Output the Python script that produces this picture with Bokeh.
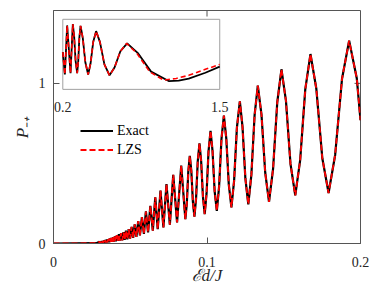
from bokeh.plotting import figure
from bokeh.models import Range1d, FixedTicker, Legend, LegendItem
from bokeh.core.properties import value
from bokeh.embed import file_html
from bokeh.resources import INLINE

# ---------------- data ----------------
x_ticks = [0, 0.1, 0.2]
x_tick_labels = ["0", "0.1", "0.2"]
y_ticks = [0, 1]
y_tick_labels = ["0", "1"]

# main panel: field E d / J and probability P_{-+} (Exact); LZS coincides at this scale
field = [0.0, 0.028,
         0.0299, 0.0303, 0.0306, 0.0310, 0.0314, 0.0318, 0.0321, 0.0325, 0.0329, 0.0334,
         0.0338, 0.0342, 0.0347, 0.0352, 0.0356, 0.0361, 0.0366, 0.0372, 0.0377, 0.0382,
         0.0388, 0.0394, 0.0400, 0.0406, 0.0413, 0.0419, 0.0426, 0.0433, 0.0440, 0.0448,
         0.0456, 0.0464, 0.0472, 0.0481, 0.0490, 0.0499, 0.0509, 0.0519, 0.0529, 0.0540,
         0.0552, 0.0563, 0.0576, 0.0589, 0.0602, 0.0616, 0.0631, 0.0647, 0.0663, 0.0679,
         0.0697, 0.0716, 0.0736, 0.0758, 0.0780, 0.0805, 0.0832, 0.0859,
         0.08686, 0.08782, 0.0888, 0.08979, 0.09080, 0.0918, 0.09288, 0.09396, 0.0951,
         0.09618, 0.09734, 0.0985, 0.09973, 0.10098, 0.1023, 0.10360, 0.10496, 0.1064,
         0.10787, 0.10941, 0.1110, 0.11257, 0.11420, 0.1159, 0.11765, 0.11947, 0.1214,
         0.12315, 0.1250, 0.1269, 0.12892, 0.13101, 0.1331, 0.13550, 0.13793, 0.1404,
         0.14306, 0.14577, 0.1485, 0.15144, 0.15439, 0.1575, 0.16070, 0.16402, 0.1674,
         0.17123, 0.17513, 0.1792, 0.18349, 0.18797, 0.1926, 0.1976, 0.2000]
p_exact = [0.0, 0.002,
           0.011, 0.003, 0.012, 0.004, 0.014, 0.004, 0.016, 0.005, 0.019, 0.006,
           0.021, 0.006, 0.024, 0.007, 0.027, 0.008, 0.031, 0.010, 0.035, 0.011,
           0.040, 0.012, 0.045, 0.014, 0.052, 0.016, 0.058, 0.018, 0.064, 0.020,
           0.070, 0.023, 0.080, 0.026, 0.090, 0.030, 0.104, 0.035, 0.120, 0.042,
           0.140, 0.050, 0.165, 0.060, 0.200, 0.070, 0.235, 0.080, 0.288, 0.090,
           0.330, 0.100, 0.371, 0.117, 0.429, 0.131, 0.486, 0.152,
           0.251, 0.449, 0.548, 0.453, 0.262, 0.167, 0.282, 0.511, 0.625,
           0.515, 0.294, 0.184, 0.314, 0.574, 0.704, 0.579, 0.329, 0.204,
           0.353, 0.650, 0.798, 0.655, 0.368, 0.225, 0.391, 0.722, 0.888,
           0.727, 0.406, 0.245, 0.430, 0.801, 0.986, 0.805, 0.442, 0.260,
           0.467, 0.881, 1.088, 0.891, 0.497, 0.300, 0.521, 0.962, 1.183,
           0.966, 0.532, 0.315, 0.553, 1.029, 1.267, 1.030, 0.770]
p_lzs = list(p_exact)

# inset: field from 0.2 to 1.5
inset_x_lim = [0.2, 1.5]
inset_y_lim = [0.0, 1.6]
inset_ticks = [0.2, 1.5]
inset_tick_labels = ["0.2", "1.5"]
inset_field = [0.200, 0.217, 0.236, 0.264, 0.283, 0.294, 0.306, 0.319, 0.3278, 0.3371,
               0.347, 0.3657, 0.3866, 0.410, 0.4299, 0.4517, 0.476, 0.5079, 0.5446, 0.587,
               0.6285, 0.6769, 0.733, 0.820, 0.931, 1.077, 1.160, 1.243, 1.381, 1.500]
inset_exact = [0.85, 0.34, 1.46, 0.37, 1.49, 1.21, 0.65, 0.37, 0.64, 1.18,
               1.45, 1.17, 0.62, 0.34, 0.59, 1.08, 1.33, 1.08, 0.57, 0.32,
               0.50, 0.87, 1.05, 0.835, 0.405, 0.19, 0.20, 0.245, 0.38, 0.52]
inset_field_lzs = [0.200, 0.217, 0.236, 0.264, 0.283, 0.294, 0.306, 0.319, 0.3278, 0.3371,
                   0.347, 0.3657, 0.3866, 0.410, 0.4299, 0.4517, 0.476, 0.5079, 0.5446, 0.587,
                   0.6285, 0.6769, 0.728, 0.812, 0.920, 1.036, 1.140, 1.243, 1.381, 1.500]
inset_lzs = [0.85, 0.34, 1.46, 0.37, 1.49, 1.21, 0.65, 0.37, 0.64, 1.18,
             1.45, 1.17, 0.62, 0.34, 0.59, 1.08, 1.33, 1.08, 0.57, 0.32,
             0.50, 0.87, 1.05, 0.83, 0.40, 0.21, 0.25, 0.32, 0.457, 0.57]

# ---------------- styling ----------------
SERIF = "Liberation Serif"
AX = "#555555"
TXT = "#262626"
X_MIN, X_MAX = 0.0, 0.2
Y_MIN, Y_MAX = 0.0, 1.455

p = figure(width=373, height=291, x_range=Range1d(X_MIN, X_MAX), y_range=Range1d(Y_MIN, Y_MAX),
           output_backend="svg", toolbar_location=None,
           min_border_left=53, min_border_right=13, min_border_top=10, min_border_bottom=48)
p.xgrid.visible = False
p.ygrid.visible = False
p.outline_line_color = AX
p.outline_line_width = 1
p.background_fill_color = "white"
p.border_fill_color = "white"

def style_axis(ax, ticks, labels):
    ax.ticker = FixedTicker(ticks=ticks)
    ax.major_label_overrides = {t: l for t, l in zip(ticks, labels)}
    ax.major_tick_in = 6
    ax.major_tick_out = 0
    ax.major_tick_line_color = AX
    ax.minor_tick_line_color = None
    ax.axis_line_color = AX
    ax.major_label_text_font = SERIF
    ax.major_label_text_color = TXT
    ax.major_label_text_font_size = "14px"
    ax.axis_label_text_font = SERIF
    ax.axis_label_text_font_style = "italic"
    ax.axis_label_text_font_size = "17px"
    ax.axis_label_text_color = TXT

style_axis(p.xaxis[0], x_ticks, x_tick_labels)
style_axis(p.yaxis[0], y_ticks, y_tick_labels)
p.xaxis[0].major_label_standoff = 13
p.yaxis[0].major_label_standoff = 8
p.xaxis[0].axis_label = "ℰd/J"
p.yaxis[0].axis_label = "P₋₊"
p.xaxis[0].axis_label_standoff = -4
p.yaxis[0].axis_label_standoff = 4

# mirrored inward ticks on the top and right edges of the box
p.ray(x=x_ticks, y=[Y_MAX] * len(x_ticks), length=6, length_units="screen",
      angle=270, angle_units="deg", line_color=AX, line_width=1)
p.ray(x=[X_MAX] * len(y_ticks), y=y_ticks, length=6, length_units="screen",
      angle=180, angle_units="deg", line_color=AX, line_width=1)

r_exact = p.line(field, p_exact, line_color="black", line_width=2.2)
r_lzs = p.line(field, p_lzs, line_color="#ff0000", line_width=1.8, line_dash="6 3")

legend = Legend(items=[LegendItem(label="Exact", renderers=[r_exact]),
                       LegendItem(label="LZS", renderers=[r_lzs])],
                location=(27, 85), background_fill_alpha=0, border_line_color=None,
                label_text_font=SERIF, label_text_font_size="14px", label_text_color="black",
                glyph_width=33, glyph_height=17, label_height=17, label_standoff=4,
                padding=0, margin=0, spacing=2)
p.add_layout(legend)

# ---------------- inset ----------------
sub = p.subplot(x_source=Range1d(*inset_x_lim), y_source=Range1d(*inset_y_lim),
                x_target=Range1d(0.00606, 0.1083), y_target=Range1d(0.9625, 1.40))
sub.quad(left=[inset_x_lim[0]], right=[inset_x_lim[1]], bottom=[inset_y_lim[0]],
         top=[inset_y_lim[1]], fill_color="white", line_color="#a0a0a0", line_width=1)
sub.line(inset_field, inset_exact, line_color="black", line_width=1.8)
sub.line(inset_field_lzs, inset_lzs, line_color="#ff0000", line_width=1.6, line_dash="5 3")
sub.text(x=inset_ticks, y=[inset_y_lim[0]] * len(inset_ticks), text=inset_tick_labels,
         text_font=value(SERIF), text_font_size="14px", text_color=TXT,
         text_align="center", text_baseline="middle", y_offset=18)

open("out.html", "w").write(file_html(p, INLINE))
